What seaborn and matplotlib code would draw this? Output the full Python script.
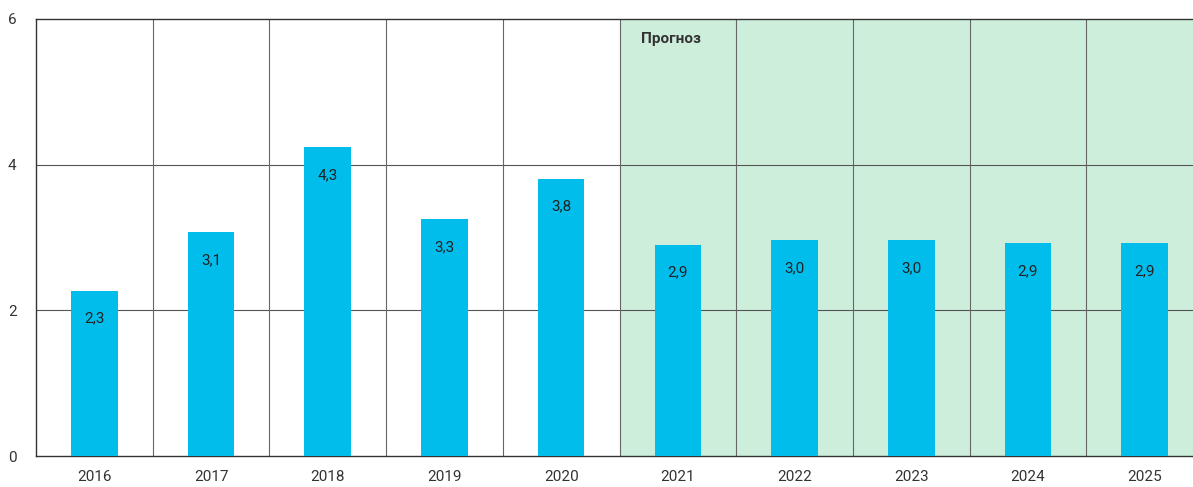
import numpy as np
import matplotlib.pyplot as plt
import seaborn as sns
import pandas as pd

years = ["2016", "2017", "2018", "2019", "2020", "2021", "2022", "2023", "2024", "2025"]
values = [2.27, 3.07, 4.24, 3.25, 3.81, 2.90, 2.96, 2.96, 2.92, 2.92]
labels = ["2,3", "3,1", "4,3", "3,3", "3,8", "2,9", "3,0", "3,0", "2,9", "2,9"]
forecast_from = 5
forecast_text = "Прогноз"

df = pd.DataFrame({"year": years, "value": values})

sns.set_style("white")
plt.rcParams['font.family'] = ['Roboto', 'DejaVu Sans']

fig = plt.figure(figsize=(11.93, 4.87), dpi=100)
ax = fig.add_axes([36 / 1193, 31 / 487, 1167 / 1193, (456 - 19) / 487])

ax.axvspan(forecast_from - 0.5, len(years) - 0.5, color="#ceeedc", zorder=0, lw=0)

sns.barplot(data=df, x="year", y="value", color="#00bdec", width=0.4,
            saturation=1, linewidth=0, ax=ax, zorder=3)

for i, (v, lab) in enumerate(zip(values, labels)):
    ax.text(i, v - 0.38, lab, ha="center", va="center", fontsize=11,
            color="#222222", zorder=4)

ax.text(forecast_from - 0.5 + 0.18, 5.72, forecast_text, ha="left", va="center",
        fontsize=11, fontweight="bold", color="#333333", zorder=4)

ax.set_xlim(-0.5, len(years) - 0.5)
ax.set_ylim(0, 6)
ax.set_yticks([0, 2, 4, 6])
for y in [2, 4]:
    ax.axhline(y, color="#555555", lw=0.8, zorder=1)
for x in np.arange(0.5, len(years) - 0.5, 1):
    ax.axvline(x, color="#666666", lw=0.8, zorder=1)

for side in ["top", "left", "bottom"]:
    ax.spines[side].set_color("#333333")
    ax.spines[side].set_linewidth(1.0)
ax.spines["right"].set_visible(False)

ax.set_xlabel("")
ax.set_ylabel("")
ax.tick_params(axis="both", length=0, labelsize=11, colors="#333333")
ax.tick_params(axis="x", pad=10)
ax.tick_params(axis="y", pad=14)

fig.savefig("out.png", dpi=100)
